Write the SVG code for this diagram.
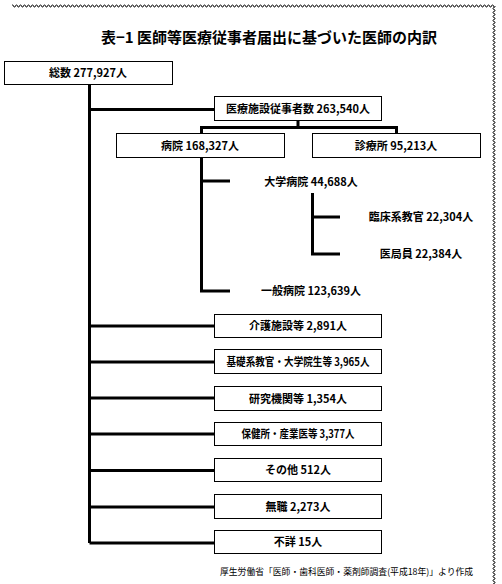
<svg xmlns="http://www.w3.org/2000/svg" width="502" height="584" viewBox="0 0 502 584">
<defs>
<pattern id="waveH" x="0" y="4" width="4" height="4" patternUnits="userSpaceOnUse">
<path d="M0,1 L1,1 L2,3 L3,3 L4,1" fill="none" stroke="#222" stroke-width="1"/>
</pattern>
<pattern id="waveV" x="492" y="0" width="4" height="4" patternUnits="userSpaceOnUse">
<path d="M1,0 L1,1 L3,2 L3,3 L1,4" fill="none" stroke="#222" stroke-width="1"/>
</pattern>
</defs>
<style>
.box{fill:#fff;stroke:#000;stroke-width:1}
.t{font-family:"Noto Sans CJK JP","Noto Sans",sans-serif;font-size:11px;font-weight:bold;fill:#000;text-anchor:middle}
.ln{fill:none;stroke:#000;stroke-width:3}
.title{font-family:"Noto Sans CJK JP","Noto Sans",sans-serif;font-size:15px;font-weight:bold;fill:#000;text-anchor:middle}
.foot{font-family:"Noto Sans CJK JP","Noto Sans",sans-serif;font-size:8.8px;fill:#000}
</style>
<rect width="502" height="584" fill="#fff"/>
<rect x="12" y="4" width="482" height="4" fill="url(#waveH)"/>
<rect x="492" y="6" width="4" height="578" fill="url(#waveV)"/>
<text class="title" x="269" y="43">表−1 医師等医療従事者届出に基づいた医師の内訳</text>
<g id="connectors">
<path class="ln" d="M89.5,84 V543 M89.5,109.5 H215 M89.5,326 H215 M89.5,362 H215 M89.5,398 H215 M89.5,434 H215 M89.5,470.5 H215 M89.5,507 H215 M89.5,543 H215"/>
<path class="ln" d="M298,121 V127.5 M201.5,133 V127.5 H396.5 V133"/>
<path class="ln" d="M201.5,157 V291 H230 M201.5,181 H230"/>
<path class="ln" d="M312.5,193 V254 H340 M312.5,217 H340"/>
</g>
<g id="total"><rect class="box" x="4.5" y="61.5" width="168" height="23"/><text class="t" x="88" y="77">総数 277,927人</text></g>
<g id="medical"><rect class="box" x="214.5" y="96.5" width="167" height="24"/><text class="t" x="298" y="113">医療施設従事者数 263,540人</text></g>
<g id="hospital"><rect class="box" x="116.5" y="133.5" width="168" height="24"/><text class="t" x="200" y="150">病院 168,327人</text></g>
<g id="clinic"><rect class="box" x="312.5" y="133.5" width="168" height="24"/><text class="t" x="396" y="150">診療所 95,213人</text></g>
<g id="univ"><text class="t" x="311" y="186">大学病院 44,688人</text></g>
<g id="clinical"><text class="t" x="421" y="221">臨床系教官 22,304人</text></g>
<g id="ikyoku"><text class="t" x="421" y="258">医局員 22,384人</text></g>
<g id="general"><text class="t" x="311" y="295">一般病院 123,639人</text></g>
<g id="kaigo"><rect class="box" x="214.5" y="314.5" width="167" height="23"/><text class="t" x="298" y="330">介護施設等 2,891人</text></g>
<g id="kiso"><rect class="box" x="214.5" y="349.5" width="167" height="24"/><text class="t" x="298" y="366" textLength="143" lengthAdjust="spacingAndGlyphs">基礎系教官・大学院生等 3,965人</text></g>
<g id="kenkyu"><rect class="box" x="214.5" y="386.5" width="167" height="24"/><text class="t" x="298" y="403">研究機関等 1,354人</text></g>
<g id="hoken"><rect class="box" x="214.5" y="422.5" width="167" height="23"/><text class="t" x="298" y="438" textLength="113" lengthAdjust="spacingAndGlyphs">保健所・産業医等 3,377人</text></g>
<g id="other"><rect class="box" x="214.5" y="458.5" width="167" height="23"/><text class="t" x="298" y="474">その他 512人</text></g>
<g id="mushoku"><rect class="box" x="214.5" y="494.5" width="167" height="24"/><text class="t" x="298" y="511">無職 2,273人</text></g>
<g id="fusho"><rect class="box" x="214.5" y="530.5" width="167" height="23"/><text class="t" x="298" y="546">不詳 15人</text></g>
<text class="foot" x="220" y="575">厚生労働省「医師・歯科医師・薬剤師調査(平成18年)」より作成</text>
</svg>
